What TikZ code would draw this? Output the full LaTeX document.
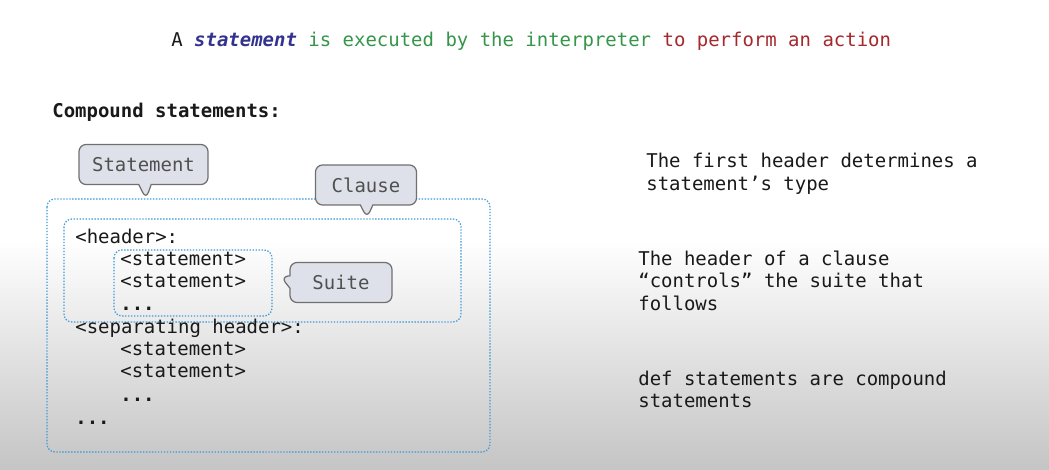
\documentclass[tikz,border=0pt]{standalone}
\usepackage{fontspec}
\setmonofont{DejaVu Sans Mono}
\usetikzlibrary{shapes.callouts}
\definecolor{stmtblue}{HTML}{33338F}
\definecolor{execgreen}{HTML}{35964A}
\definecolor{actred}{HTML}{A5282C}
\definecolor{dotblue}{HTML}{3D9AD6}
\definecolor{tipfill}{HTML}{DEE1EA}
\definecolor{tipdraw}{HTML}{707070}
\definecolor{tiptext}{HTML}{505050}

\begin{document}
\begin{tikzpicture}[x=0.02cm,y=-0.02cm,
   txt/.style={anchor=base west,inner sep=0pt,font=\ttfamily\fontsize{10.8pt}{13pt}\selectfont,text=black!90},
   dots/.style={txt,font=\ttfamily\bfseries\fontsize{10.8pt}{13pt}\selectfont},
   dotbox/.style={draw=dotblue,line width=0.7pt,dash pattern=on 0.8pt off 0.9pt,rounded corners=4.5pt},
   tip/.style={rectangle callout,draw=tipdraw,fill=tipfill,line width=0.7pt,rounded corners=4pt,
      inner sep=0pt,minimum height=0.8cm,text=tiptext,font=\ttfamily\fontsize{10.8pt}{13pt}\selectfont}]

  % background
  \useasboundingbox (0,0) rectangle (1049,470);
  \fill[white] (0,0) rectangle (1049,241);
  \shade[top color=white,bottom color=black!23] (0,240) rectangle (1049,470);

  % title and heading
  \node[txt] (title) at (171,47) {A \textcolor{stmtblue}{\textbf{\textit{statement}}} \textcolor{execgreen}{is executed by the interpreter} \textcolor{actred}{to perform an action}};
  \node[txt,font=\ttfamily\bfseries\fontsize{10.8pt}{13pt}\selectfont] (compound) at (52,117) {Compound statements:};

  % dotted boxes
  \draw[dotbox] (47,199) rectangle (490,452);
  \draw[dotbox] (64,219) rectangle (461,322);
  \draw[dotbox] (114,250) rectangle (272,316);
  \coordinate (stmttip) at (146,199);
  \coordinate (clausetip) at (367,218);
  \coordinate (suitetip) at (281,277);

  % code lines
  \node[txt]  (hdr)  at (75,243)  {<header>:};
  \node[txt]  (s1)   at (120,265) {<statement>};
  \node[txt]  (s2)   at (120,287) {<statement>};
  \node[dots] (d1)   at (120,310) {...};
  \node[txt]  (shdr) at (75,333)  {<separating header>:};
  \node[txt]  (s3)   at (120,355) {<statement>};
  \node[txt]  (s4)   at (120,377) {<statement>};
  \node[dots] (d2)   at (120,401) {...};
  \node[dots] (d3)   at (75,424)  {...};

  % callouts
  \node[tip,minimum width=2.58cm,callout absolute pointer={(stmttip)}] (statement) at (143.5,164.5) {Statement};
  \node[tip,minimum width=2.02cm,callout absolute pointer={(clausetip)}] (clause) at (366,185) {Clause};
  \node[tip,minimum width=2.04cm,callout absolute pointer={(suitetip)}] (suite) at (341,282.5) {Suite};

  % notes on the right
  \node[txt] (n1a) at (646,167) {The first header determines a};
  \node[txt] (n1b) at (646,190) {statement’s type};
  \node[txt] (n2a) at (638,265) {The header of a clause};
  \node[txt] (n2b) at (638,287) {“controls” the suite that};
  \node[txt] (n2c) at (638,310) {follows};
  \node[txt] (n3a) at (638,385) {def statements are compound};
  \node[txt] (n3b) at (638,407) {statements};
\end{tikzpicture}
\end{document}
